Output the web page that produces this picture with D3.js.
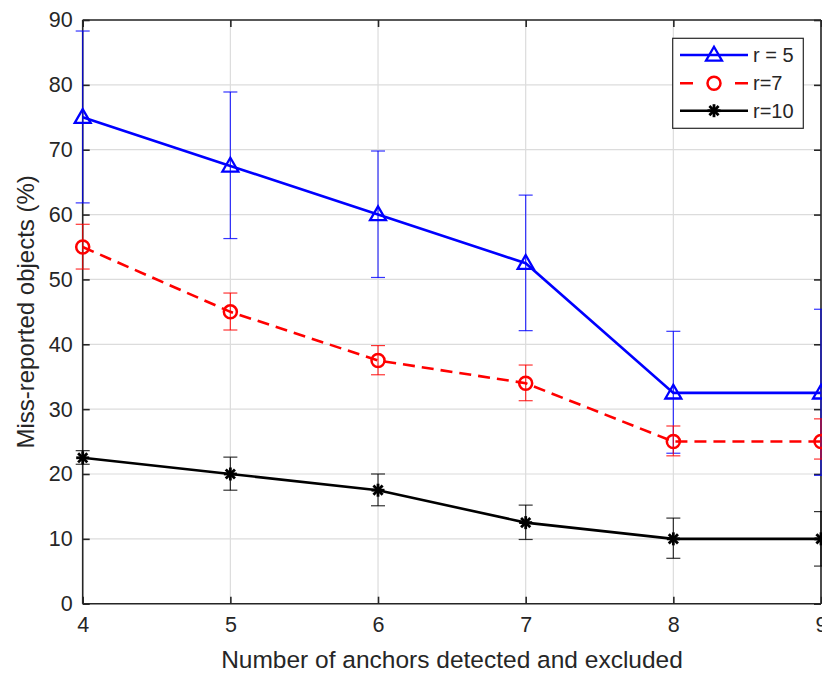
<!DOCTYPE html>
<html><head><meta charset="utf-8">
<script src="https://cdn.jsdelivr.net/npm/d3@7"></script>
<style>body{margin:0;background:#fff}svg{display:block}text{font-family:Arial,"Liberation Sans",Helvetica,sans-serif;fill:#262626}</style>
</head><body><svg id="c" width="822" height="673"></svg>
<script>
const xs = [4,5,6,7,8,9];
const yTicks = [0,10,20,30,40,50,60,70,80,90];
const r5 = [75,67.5,60,52.5,32.5,32.5];
const r5Hi = [88.3,78.9,69.8,63.0,42.0,45.4];
const r5Lo = [61.8,56.3,50.3,42.1,23.2,19.8];
const r7 = [55,45,37.5,34,25,25];
const r7Hi = [58.5,47.9,39.8,36.8,27.4,28.5];
const r7Lo = [51.6,42.2,35.3,31.3,22.8,22.3];
const r10 = [22.5,20,17.5,12.5,10,10];
const r10Hi = [23.6,22.6,20.0,15.2,13.2,14.2];
const r10Lo = [21.5,17.5,15.1,9.9,7.0,5.8];
const seriesNames = ["r = 5","r=7","r=10"];

const svg = d3.select("#c");
const L=82.7, R=821, T=20, B=603.7;
const x = d3.scaleLinear().domain([4,9]).range([L,R]);
const y = d3.scaleLinear().domain([0,90]).range([B,T]);

// grid
const g = svg.append("g");
g.selectAll(".gx").data(xs).enter().append("line")
 .attr("x1",d=>x(d)).attr("x2",d=>x(d)).attr("y1",T).attr("y2",B)
 .attr("stroke","#dcdcdc").attr("stroke-width",1.2);
g.selectAll(".gy").data(yTicks).enter().append("line")
 .attr("y1",d=>y(d)).attr("y2",d=>y(d)).attr("x1",L).attr("x2",R)
 .attr("stroke","#dcdcdc").attr("stroke-width",1.2);

// axes
const ax = d3.axisBottom(x).tickValues(xs).tickSize(-7).tickPadding(13).tickFormat(d3.format("d"));
const ay = d3.axisLeft(y).tickValues(yTicks).tickSize(-7).tickPadding(10);
const axT = d3.axisTop(x).tickValues(xs).tickSize(-7).tickFormat("");
const ayR = d3.axisRight(y).tickValues(yTicks).tickSize(-7).tickFormat("");
function style(sel){sel.attr("font-size",null).attr("font-family",null);
 sel.select(".domain").attr("stroke","#262626").attr("stroke-width",1.6);
 sel.selectAll(".tick line").attr("stroke","#262626").attr("stroke-width",1.6);
 sel.selectAll(".tick text").style("font-size","21.5px").style("fill","#262626");}
svg.append("g").attr("transform",`translate(0,${B})`).call(ax).call(style).call(s=>s.select(".domain").attr("d",`M${L},0H${R}`));
svg.append("g").attr("transform",`translate(${L},0)`).call(ay).call(style).call(s=>s.select(".domain").attr("d",`M0,${B}V${T}`));
svg.append("g").attr("transform",`translate(0,${T})`).call(axT).call(style).call(s=>s.select(".domain").attr("d",`M${L},0H${R}`));
svg.append("g").attr("transform",`translate(${R},0)`).call(ayR).call(style).call(s=>s.select(".domain").attr("d",`M0,${B}V${T}`));

// labels
svg.append("text").attr("x",452).attr("y",668).attr("text-anchor","middle").style("font-size","24.5px").text("Number of anchors detected and excluded");
svg.append("text").attr("transform",`translate(34,${(T+B)/2}) rotate(-90)`).attr("text-anchor","middle").style("font-size","24px").text("Miss-reported objects (%)");

const series = [
 {v:r5,hi:r5Hi,lo:r5Lo,color:"#0000ff",dash:null,m:"tri"},
 {v:r7,hi:r7Hi,lo:r7Lo,color:"#ff0000",dash:"12,7",m:"circ"},
 {v:r10,hi:r10Hi,lo:r10Lo,color:"#000000",dash:null,m:"star"}
];
const line = d3.line().x(d=>x(d[0])).y(d=>y(d[1]));
function marker(sel,type,color){
 if(type==="tri") sel.append("path").attr("d",d3.symbol(d3.symbolTriangle,110)()).attr("transform","translate(0,1)").attr("fill","none").attr("stroke",color).attr("stroke-width",2.3);
 else if(type==="circ") sel.append("circle").attr("r",6.5).attr("fill","none").attr("stroke",color).attr("stroke-width",2.5);
 else { for(let a=0;a<4;a++){const t=a*Math.PI/4; sel.append("line").attr("x1",-6.5*Math.cos(t)).attr("y1",-6.5*Math.sin(t)).attr("x2",6.5*Math.cos(t)).attr("y2",6.5*Math.sin(t)).attr("stroke",color).attr("stroke-width",2.8);} }
}
series.forEach(s=>{
 const pts = xs.map((d,i)=>[d,s.v[i]]);
 const eg = svg.append("g").attr("stroke",s.color).attr("stroke-width",1.2).attr("stroke-opacity",0.8);
 xs.forEach((d,i)=>{
  eg.append("line").attr("x1",x(d)).attr("x2",x(d)).attr("y1",y(s.lo[i])).attr("y2",y(s.hi[i]));
  eg.append("line").attr("x1",x(d)-7).attr("x2",x(d)+7).attr("y1",y(s.lo[i])).attr("y2",y(s.lo[i]));
  eg.append("line").attr("x1",x(d)-7).attr("x2",x(d)+7).attr("y1",y(s.hi[i])).attr("y2",y(s.hi[i]));
 });
 svg.append("path").datum(pts).attr("d",line).attr("fill","none").attr("stroke",s.color).attr("stroke-width",2.6).attr("stroke-dasharray",s.dash);
 pts.forEach(p=>{const m=svg.append("g").attr("transform",`translate(${x(p[0])},${y(p[1])})`);marker(m,s.m,s.color);});
});

// legend
const lg = svg.append("g");
lg.append("rect").attr("x",672.7).attr("y",38.3).attr("width",130.6).attr("height",90).attr("fill","#fff").attr("stroke","#262626").attr("stroke-width",1.2);
const ly=[55,83.3,110.7];
series.forEach((s,i)=>{
 lg.append("line").attr("x1",680).attr("x2",748).attr("y1",ly[i]).attr("y2",ly[i]).attr("stroke",s.color).attr("stroke-width",2.6).attr("stroke-dasharray",s.dash?"13,42":null);
 const m=lg.append("g").attr("transform",`translate(714,${ly[i]})`);
 marker(m,s.m,s.color);
 lg.append("text").attr("x",753).attr("y",ly[i]+7).style("font-size","20px").text(seriesNames[i]);
});
</script></body></html>
